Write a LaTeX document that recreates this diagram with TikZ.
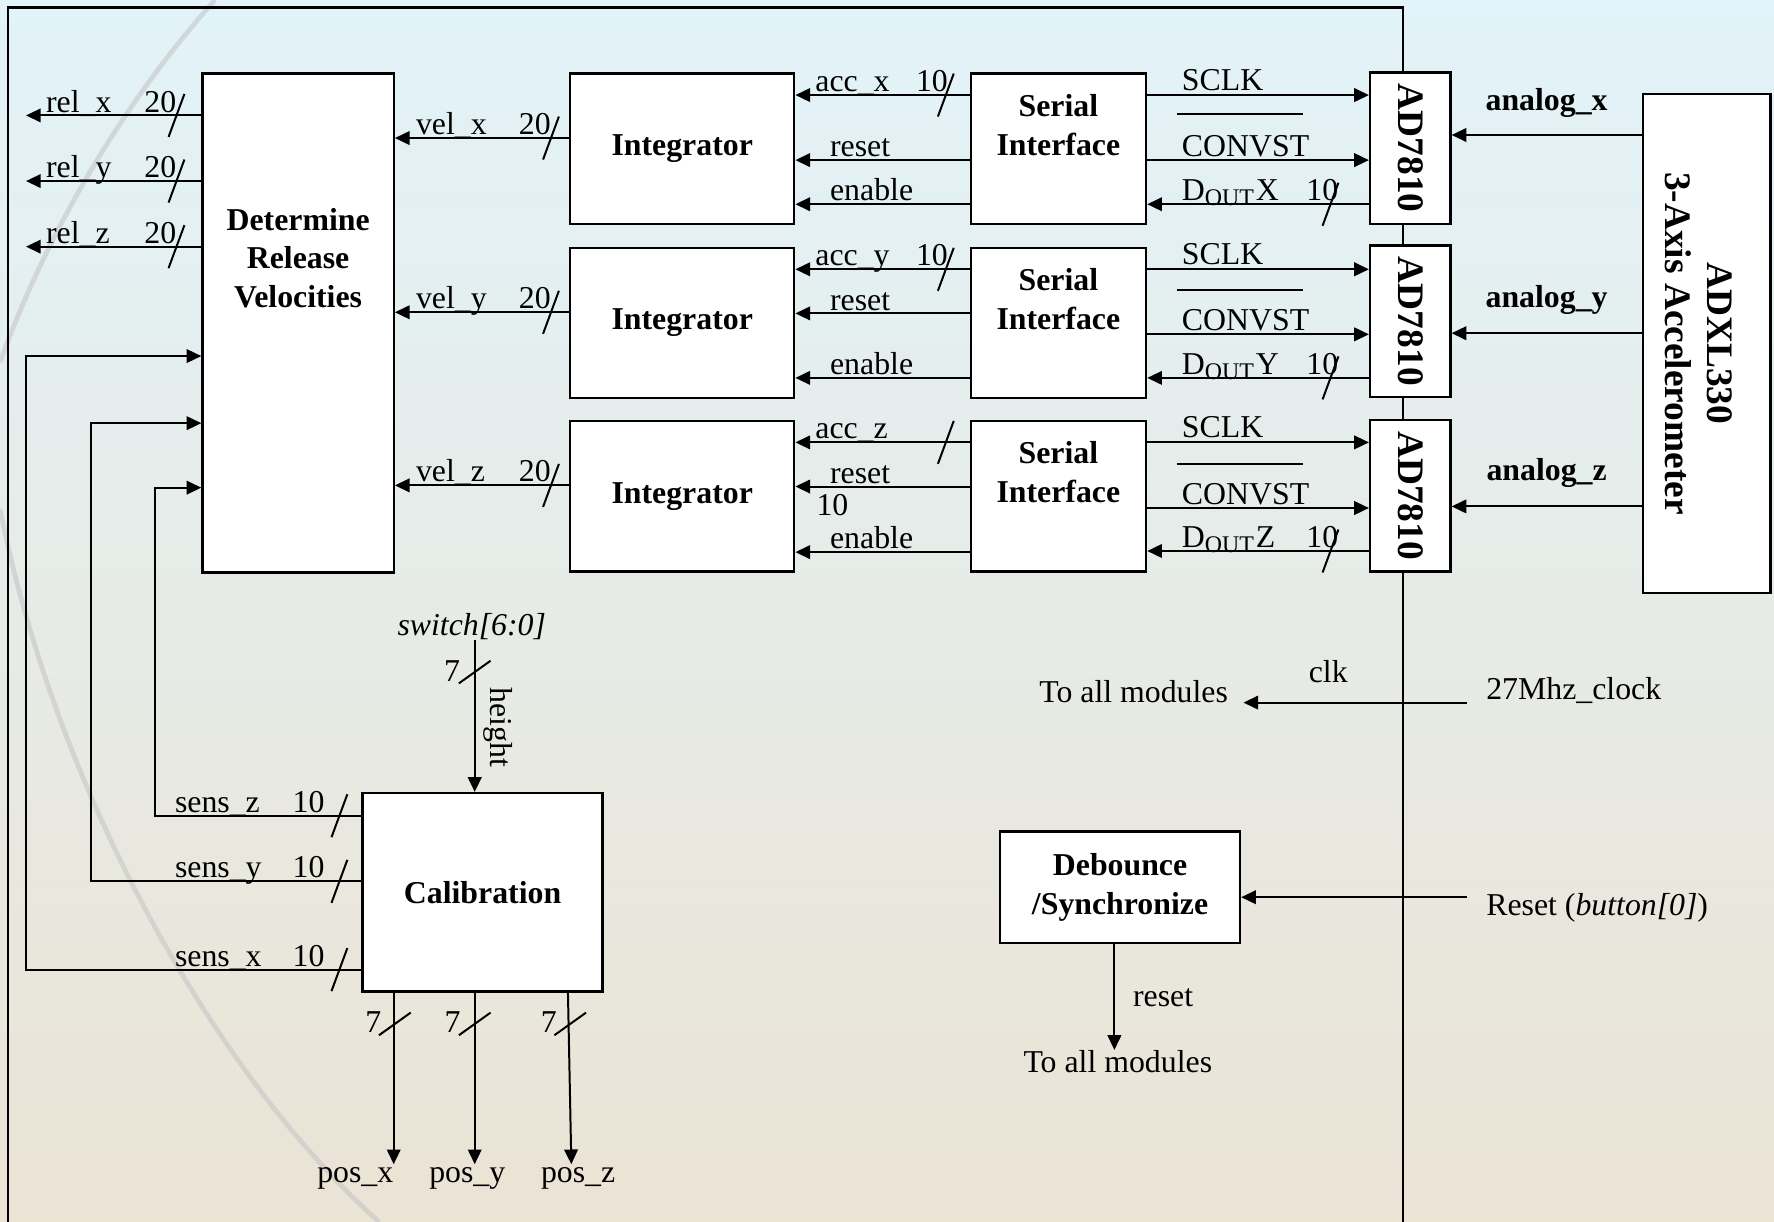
\documentclass[tikz,border=0pt]{standalone}
\usepackage{fontspec}
\setmainfont{Liberation Serif}
\usetikzlibrary{positioning, arrows.meta, calc}

\definecolor{bgtop}{RGB}{226,243,249}
\definecolor{bgmid}{RGB}{243,245,240}
\definecolor{bgbot}{RGB}{235,227,212}

\tikzset{
  block/.style={draw, fill=white, rectangle, line width=0.6pt, inner sep=0pt},
  sig/.style={line width=0.5pt, -{Triangle[length=1.3mm, width=1.2mm]}},
  wire/.style={line width=0.5pt},
  txt/.style={font=\fontsize{8pt}{9.7pt}\selectfont, inner sep=0pt},
  btxt/.style={txt, font=\fontsize{8pt}{9.7pt}\selectfont\bfseries, align=center},
  lbl/.style={txt, anchor=base west},
  vtxt/.style={font=\fontsize{9.4pt}{10.5pt}\selectfont\bfseries, align=center, rotate=-90, inner sep=0pt},
  swoosh/.style={draw=gray!45, line width=1.2pt, opacity=0.6}
}
\newcommand{\busmark}[1]{\draw[wire] (#1) ++(-7,19) -- ++(14,-38);}
\newcommand{\vbusmark}[1]{\draw[wire] (#1) ++(-14,10) -- ++(28,-20);}

\begin{document}
\begin{tikzpicture}[x=0.1mm, y=-0.1mm]
\useasboundingbox (0,0) rectangle (1568,1080);
% background
\fill[top color=bgtop, middle color=bgmid, bottom color=bgbot] (0,0) rectangle (1568,1080);
\draw[swoosh] (190,0) .. controls (105,95) and (40,210) .. (0,320);
\draw[swoosh] (0,450) .. controls (50,700) and (190,950) .. (335,1080);
\draw[line width=0.6pt] (7,1100) -- (7,6.5) -- (1240,6.5) -- (1240,1100);

% blocks
\node[block, minimum width=16.9mm, minimum height=44.1mm] (DRV) at (263.5,285.5) {};
\node[btxt] at (263.5,228) {Determine\\Release\\Velocities};
\node[block, minimum width=19.8mm, minimum height=13.3mm, btxt] (INT1) at (603,131.5) {Integrator};
\node[block, minimum width=19.8mm, minimum height=13.3mm, btxt] (INT2) at (603,285.5) {Integrator};
\node[block, minimum width=19.8mm, minimum height=13.3mm, btxt] (INT3) at (603,438.5) {Integrator};
\node[block, minimum width=15.5mm, minimum height=13.3mm] (SI1) at (935.5,131.5) {};
\node[block, minimum width=15.5mm, minimum height=13.3mm] (SI2) at (935.5,285.5) {};
\node[block, minimum width=15.5mm, minimum height=13.3mm] (SI3) at (935.5,438.5) {};
\node[btxt] at ([yshift=2.1mm]SI1.center) {Serial\\Interface};
\node[btxt] at ([yshift=2.1mm]SI2.center) {Serial\\Interface};
\node[btxt] at ([yshift=2.1mm]SI3.center) {Serial\\Interface};
\node[block, minimum width=7.1mm, minimum height=13.4mm] (AD1) at (1246.5,131) {};
\node[block, minimum width=7.1mm, minimum height=13.4mm] (AD2) at (1246.5,284) {};
\node[block, minimum width=7.1mm, minimum height=13.4mm] (AD3) at (1246.5,438) {};
\node[vtxt] at (AD1) {AD7810}; \node[vtxt] at (AD2) {AD7810}; \node[vtxt] at (AD3) {AD7810};
\node[block, minimum width=11.3mm, minimum height=44.1mm] (ADXL) at (1508.5,303.5) {};
\node[vtxt] at ([xshift=-0.7mm]ADXL.center) {ADXL330\\3-Axis Accelerometer};
\node[block, minimum width=21.2mm, minimum height=17.55mm, btxt] (Cal) at (426.5,788.75) {Calibration};
\node[block, minimum width=21.2mm, minimum height=9.86mm, btxt] (DB) at (990,784.3) {Debounce\\/Synchronize};

% accelerometer -> AD7810
\draw[sig] (ADXL.west |- 0,119.3) -- (AD1.east |- 0,119.3);
\draw[sig] (ADXL.west |- 0,294.5) -- (AD2.east |- 0,294.5);
\draw[sig] (ADXL.west |- 0,447.6) -- (AD3.east |- 0,447.6);
\node[btxt] at (1367,91) {analog\_x}; \node[btxt] at (1367,265) {analog\_y}; \node[btxt] at (1367,418) {analog\_z};

% serial interface <-> AD7810
\draw[sig] (SI1.east |- 0,84) -- (AD1.west |- 0,84); \draw[sig] (SI1.east |- 0,141.5) -- (AD1.west |- 0,141.5);
\draw[sig] (AD1.west |- 0,180.5) -- (SI1.east |- 0,180.5);
\draw[sig] (SI2.east |- 0,238) -- (AD2.west |- 0,238); \draw[sig] (SI2.east |- 0,295.5) -- (AD2.west |- 0,295.5);
\draw[sig] (AD2.west |- 0,334) -- (SI2.east |- 0,334);
\draw[sig] (SI3.east |- 0,391) -- (AD3.west |- 0,391); \draw[sig] (SI3.east |- 0,449) -- (AD3.west |- 0,449);
\draw[sig] (AD3.west |- 0,487) -- (SI3.east |- 0,487);
\node[lbl] at (1044,80) {SCLK}; \node[lbl] at (1044,138.5) {CONVST}; \node[lbl] at (1044,177.5) {D\textsubscript{OUT}X};
\node[lbl] at (1044,234) {SCLK}; \node[lbl] at (1044,292.5) {CONVST}; \node[lbl] at (1044,331) {D\textsubscript{OUT}Y};
\node[lbl] at (1044,387) {SCLK}; \node[lbl] at (1044,446) {CONVST}; \node[lbl] at (1044,484) {D\textsubscript{OUT}Z};
\draw[wire] (1040,101) -- (1152,101); \draw[wire] (1040,256) -- (1152,256); \draw[wire] (1040,410) -- (1152,410);
\node[lbl] at (1154,177.5) {10}; \node[lbl] at (1154,331) {10}; \node[lbl] at (1154,484) {10};
\busmark{1176,180.5} \busmark{1176,334} \busmark{1176,487}

% serial interface -> integrator
\draw[sig] (SI1.west |- 0,84) -- (INT1.east |- 0,84); \draw[sig] (SI1.west |- 0,141.5) -- (INT1.east |- 0,141.5);
\draw[sig] (SI1.west |- 0,180.5) -- (INT1.east |- 0,180.5);
\draw[sig] (SI2.west |- 0,238) -- (INT2.east |- 0,238); \draw[sig] (SI2.west |- 0,277) -- (INT2.east |- 0,277);
\draw[sig] (SI2.west |- 0,334) -- (INT2.east |- 0,334);
\draw[sig] (SI3.west |- 0,391) -- (INT3.east |- 0,391); \draw[sig] (SI3.west |- 0,430) -- (INT3.east |- 0,430);
\draw[sig] (SI3.west |- 0,488) -- (INT3.east |- 0,488);
\node[lbl] at (720,81) {acc\_x}; \node[lbl] at (809,81) {10}; \node[lbl] at (733,138.5) {reset}; \node[lbl] at (733,177.5) {enable};
\node[lbl] at (720,235) {acc\_y}; \node[lbl] at (809,235) {10}; \node[lbl] at (733,274) {reset}; \node[lbl] at (733,331) {enable};
\node[lbl] at (720,388) {acc\_z}; \node[lbl] at (721,456) {10}; \node[lbl] at (733,427) {reset}; \node[lbl] at (733,485) {enable};
\busmark{836,84} \busmark{836,238} \busmark{836,391}

% integrator -> determine release velocities
\draw[sig] (INT1.west |- 0,122) -- (DRV.east |- 0,122);
\draw[sig] (INT2.west |- 0,276) -- (DRV.east |- 0,276);
\draw[sig] (INT3.west |- 0,429) -- (DRV.east |- 0,429);
\node[lbl] at (367,119) {vel\_x}; \node[lbl] at (458,119) {20};
\node[lbl] at (367,273) {vel\_y}; \node[lbl] at (458,273) {20};
\node[lbl] at (367,426) {vel\_z}; \node[lbl] at (458,426) {20};
\busmark{487,122} \busmark{487,276} \busmark{487,429}

% release outputs
\coordinate (outrx) at (23,102); \coordinate (outry) at (23,160); \coordinate (outrz) at (23,218);
\draw[sig] (DRV.west |- outrx) -- (outrx); \draw[sig] (DRV.west |- outry) -- (outry); \draw[sig] (DRV.west |- outrz) -- (outrz);
\node[lbl] at (40,99) {rel\_x}; \node[lbl] at (127,99) {20};
\node[lbl] at (40,157) {rel\_y}; \node[lbl] at (127,157) {20};
\node[lbl] at (40,215) {rel\_z}; \node[lbl] at (127,215) {20};
\busmark{156,102} \busmark{156,160} \busmark{156,218}

% calibration -> determine release velocities
\draw[sig] (Cal.west |- 0,857) -- (23,857) -- (23,314.7) -- (DRV.west |- 0,314.7);
\draw[sig] (Cal.west |- 0,779) -- (80,779) -- (80,374) -- (DRV.west |- 0,374);
\draw[sig] (Cal.west |- 0,721) -- (137,721) -- (137,431) -- (DRV.west |- 0,431);
\node[lbl] at (154,718) {sens\_z}; \node[lbl] at (258,718) {10};
\node[lbl] at (154,776) {sens\_y}; \node[lbl] at (258,776) {10};
\node[lbl] at (154,854) {sens\_x}; \node[lbl] at (258,854) {10};
\busmark{300,721} \busmark{300,779} \busmark{300,857}

% switches and position outputs
\coordinate (sw) at (419.6,566);
\node[txt, font=\fontsize{8pt}{9.7pt}\selectfont\itshape, anchor=south] at (417,566) {switch[6:0]};
\draw[sig] (sw) -- (sw |- Cal.north);
\node[txt] at (399.5,593) {7}; \vbusmark{419.6,594}
\node[txt, rotate=-90] at (440,643) {height};
\node[txt, anchor=base] (posx) at (314,1045) {pos\_x};
\node[txt, anchor=base] (posy) at (413,1045) {pos\_y};
\node[txt, anchor=base] (posz) at (511,1045) {pos\_z};
\draw[sig] (Cal.south -| 348,0) -- (348,1029);
\draw[sig] (Cal.south -| 419.6,0) -- (419.6,1029);
\draw[sig] (Cal.south -| 502,0) -- (505,1029);
\node[txt] at (330,903) {7}; \node[txt] at (400,903) {7}; \node[txt] at (485,903) {7};
\vbusmark{349,905} \vbusmark{419.6,905} \vbusmark{504,905}

% clock and reset
\coordinate (clk27) at (1297,621); \coordinate (rst) at (1297,793);
\node[txt, inner xsep=1.3mm] (tam1) at (1002,611) {To all modules};
\node[txt, anchor=west] at (1313,610.5) {27Mhz\_clock};
\node[txt] at (1174,594) {clk};
\draw[sig] (clk27) -- (tam1.east |- clk27);
\node[txt, anchor=west] at (1313,802.5) {Reset (\textit{button[0]})};
\draw[sig] (rst) -- (DB.east |- rst);
\node[txt] (tam2) at (988,938) {To all modules};
\node[txt] at (1028,882) {reset};
\draw[sig] (DB.south -| 985,0) -- (985,928);
\end{tikzpicture}
\end{document}
